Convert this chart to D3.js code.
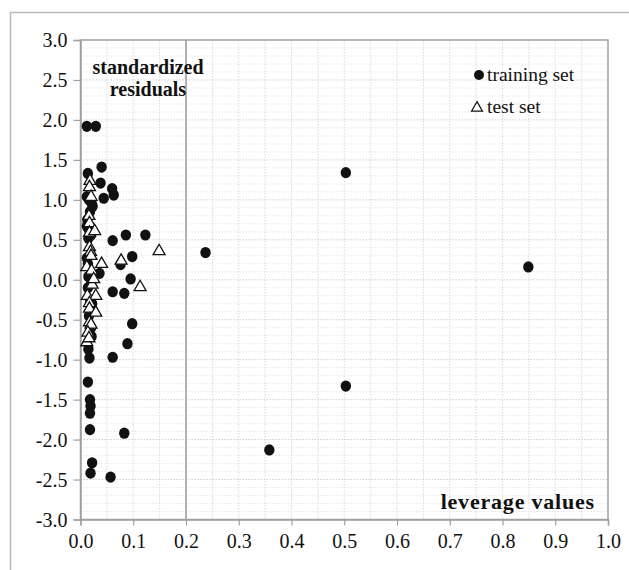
<!DOCTYPE html>
<html>
<head>
<meta charset="utf-8">
<script src="https://cdn.jsdelivr.net/npm/d3@7"></script>
<style>
  body { margin: 0; background: #fff; }
  svg text { font-family: "Liberation Serif", "Times New Roman", serif; fill: #111; }
</style>
</head>
<body>
<div id="chart"></div>
<script>
// leverage (x) / standardized residual (y)
var trainX = [0.012, 0.029, 0.040, 0.014, 0.038, 0.060, 0.063, 0.044, 0.012, 0.016,
              0.021, 0.023, 0.018, 0.013, 0.012, 0.016, 0.020, 0.015, 0.061, 0.086,
              0.123, 0.237, 0.503, 0.849, 0.012, 0.014, 0.076, 0.098, 0.036, 0.015,
              0.095, 0.020, 0.014, 0.061, 0.083, 0.018, 0.022, 0.016, 0.020, 0.098,
              0.021, 0.089, 0.015, 0.017, 0.061, 0.014, 0.018, 0.019, 0.018, 0.018,
              0.083, 0.022, 0.019, 0.057, 0.358, 0.503, 0.018];
var trainY = [1.92, 1.92, 1.41, 1.33, 1.21, 1.14, 1.06, 1.02, 1.04, 1.00,
              0.96, 0.92, 0.85, 0.75, 0.67, 0.63, 0.56, 0.52, 0.49, 0.56,
              0.56, 0.34, 1.34, 0.16, 0.27, 0.20, 0.19, 0.29, 0.08, 0.04,
              0.01, -0.05, -0.10, -0.15, -0.17, -0.25, -0.30, -0.45, -0.60, -0.55,
              -0.71, -0.80, -0.87, -0.98, -0.97, -1.28, -1.50, -1.58, -1.67, -1.875,
              -1.92, -2.29, -2.42, -2.47, -2.13, -1.33, -0.40];

var testX = [0.018, 0.017, 0.020, 0.016, 0.017, 0.017, 0.027, 0.017, 0.019, 0.020,
             0.040, 0.077, 0.012, 0.021, 0.113, 0.149, 0.013, 0.029, 0.017, 0.017,
             0.029, 0.017, 0.020, 0.014, 0.012, 0.016, 0.022, 0.025];
var testY = [1.25, 1.17, 1.05, 0.81, 0.72, 0.60, 0.62, 0.42, 0.36, 0.31,
             0.21, 0.25, 0.17, 0.125, -0.08, 0.37, -0.19, -0.19, -0.28, -0.35,
             -0.40, -0.52, -0.55, -0.65, -0.77, -0.72, -0.05, 0.02];

var xTicks = [0, 0.1, 0.2, 0.3, 0.4, 0.5, 0.6, 0.7, 0.8, 0.9, 1.0];
var yTicks = [-3, -2.5, -2, -1.5, -1, -0.5, 0, 0.5, 1, 1.5, 2, 2.5, 3];
var leverageLimit = 0.2;

var W = 629, H = 570;
var m = {left: 80.5, right: 608, top: 40, bottom: 519.5};
var serif = '"Liberation Serif", "Times New Roman", serif';

var svg = d3.select("#chart").append("svg")
    .attr("width", W).attr("height", H);

// outer frame (cut off at right / bottom)
svg.append("rect")
    .attr("x", 10.5).attr("y", 12.5)
    .attr("width", 700).attr("height", 700)
    .attr("fill", "none").attr("stroke", "#b8b8b8").attr("stroke-width", 1.5);

var x = d3.scaleLinear().domain([0, 1]).range([m.left, m.right]);
var y = d3.scaleLinear().domain([-3, 3]).range([m.bottom, m.top]);

// dotted background grid
var g = svg.append("g");
g.selectAll("line.vg")
    .data(d3.range(1, 20).map(function(i) { return i * 0.05; }))
    .enter().append("line")
    .attr("x1", function(d) { return x(d); }).attr("x2", function(d) { return x(d); })
    .attr("y1", m.top).attr("y2", m.bottom)
    .attr("stroke", "#d8d8d8").attr("stroke-dasharray", "1.5,1.5");
g.selectAll("line.hg")
    .data(d3.range(1, 60))
    .enter().append("line")
    .attr("x1", m.left).attr("x2", m.right)
    .attr("y1", function(d) { return y(-3 + d * 0.1); })
    .attr("y2", function(d) { return y(-3 + d * 0.1); })
    .attr("stroke", function(d) { return d % 5 == 0 ? "#d0d0d0" : "#e8e8e8"; })
    .attr("stroke-dasharray", "1.5,1.5");

// plot frame
svg.append("rect")
    .attr("x", m.left).attr("y", m.top)
    .attr("width", m.right - m.left).attr("height", m.bottom - m.top)
    .attr("fill", "none").attr("stroke", "#a0a0a0").attr("stroke-width", 1.5);

// leverage warning line
svg.append("line")
    .attr("x1", x(leverageLimit)).attr("x2", x(leverageLimit))
    .attr("y1", m.top).attr("y2", m.bottom)
    .attr("stroke", "#9a9a9a").attr("stroke-width", 1.5);

// axes
var xAxis = svg.append("g")
    .attr("transform", "translate(0," + m.bottom + ")")
    .call(d3.axisBottom(x).tickValues(xTicks).tickFormat(d3.format(".1f")).tickSize(6).tickPadding(4));
var yAxis = svg.append("g")
    .attr("transform", "translate(" + m.left + ",0)")
    .call(d3.axisLeft(y).tickValues(yTicks).tickFormat(d3.format(".1f")).tickSize(7).tickPadding(6));

[xAxis, yAxis].forEach(function(a) {
    a.attr("font-family", null).attr("font-size", null);
    a.select(".domain").attr("stroke", "#a0a0a0").attr("stroke-width", 1.5);
    a.selectAll(".tick line").attr("stroke", "#a0a0a0").attr("stroke-width", 1.2);
    a.selectAll("text").style("font-size", "20px").style("font-family", serif).attr("fill", "#111");
});
xAxis.selectAll("text").attr("dy", "0.9em");
yAxis.selectAll("text").attr("dy", "0.33em")
    .text(function(d) { return d3.format(".1f")(d).replace("−", "-"); });

// training set
svg.append("g").selectAll("ellipse")
    .data(trainX)
    .enter().append("ellipse")
    .attr("cx", function(d) { return x(d); })
    .attr("cy", function(d, i) { return y(trainY[i]); })
    .attr("rx", 5.2).attr("ry", 5.6)
    .attr("fill", "#111");

// test set
var tri = d3.symbol().type(d3.symbolTriangle).size(62);
svg.append("g").selectAll("path")
    .data(testX)
    .enter().append("path")
    .attr("d", tri)
    .attr("transform", function(d, i) { return "translate(" + x(d) + "," + (y(testY[i]) + 1) + ")"; })
    .attr("fill", "#fff").attr("stroke", "#111").attr("stroke-width", 1.3);

// axis titles
svg.append("text").attr("x", 148).attr("y", 74).attr("text-anchor", "middle")
    .style("font-size", "20px").attr("font-weight", "bold").text("standardized");
svg.append("text").attr("x", 148).attr("y", 96).attr("text-anchor", "middle")
    .style("font-size", "20px").attr("font-weight", "bold").text("residuals");
svg.append("text").attr("x", 595).attr("y", 509).attr("text-anchor", "end")
    .style("font-size", "22px").style("letter-spacing", "0.8px")
    .attr("font-weight", "bold").text("leverage values");

// legend
svg.append("circle").attr("cx", 479).attr("cy", 75).attr("r", 5).attr("fill", "#111");
svg.append("text").attr("x", 487).attr("y", 81).style("font-size", "19.5px").text("training set");
svg.append("path").attr("d", d3.symbol().type(d3.symbolTriangle).size(52))
    .attr("transform", "translate(477,108)")
    .attr("fill", "#fff").attr("stroke", "#111").attr("stroke-width", 1.2);
svg.append("text").attr("x", 487).attr("y", 113).style("font-size", "19.5px").text("test set");
</script>
</body>
</html>
